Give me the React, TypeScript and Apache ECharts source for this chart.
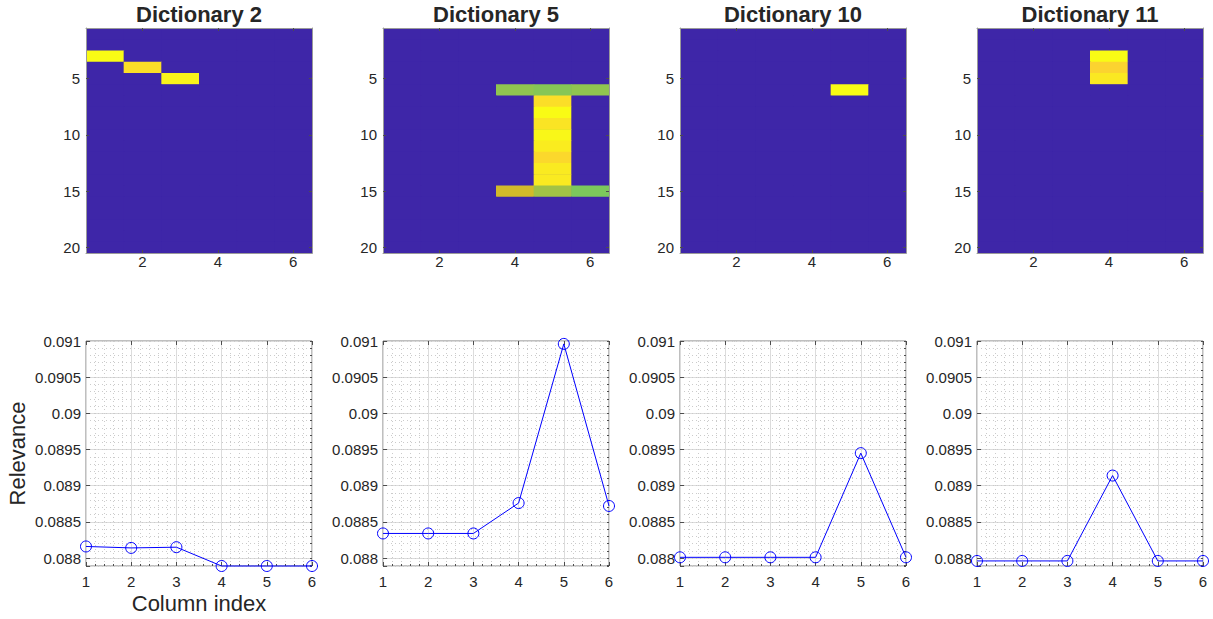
import { useEffect, useRef } from "react";
import * as echarts from "echarts";

// ---- data ----
const dictionaryNames = ["Dictionary 2", "Dictionary 5", "Dictionary 10", "Dictionary 11"];

const heatColumns = ["1", "2", "3", "4", "5", "6"];
const heatRows = [
  "1", "2", "3", "4", "5", "6", "7", "8", "9", "10",
  "11", "12", "13", "14", "15", "16", "17", "18", "19", "20",
];

// Non-zero atoms of each dictionary: [column, row, normalised value]
const dict2Cells = [
  [1, 3, 1.0],
  [2, 4, 0.925],
  [3, 5, 0.98],
];
const dict5Cells = [
  [4, 6, 0.654], [5, 6, 0.64], [6, 6, 0.654],
  [5, 7, 0.925], [5, 8, 1.0], [5, 9, 0.94], [5, 10, 0.99],
  [5, 11, 0.96], [5, 12, 0.91], [5, 13, 0.955], [5, 14, 0.955],
  [4, 15, 0.75], [5, 15, 0.68], [6, 15, 0.625],
];
const dict10Cells = [[5, 6, 1.0]];
const dict11Cells = [
  [4, 3, 1.0],
  [4, 4, 0.896],
  [4, 5, 0.95],
];

const columnIndex = [1, 2, 3, 4, 5, 6];
const relevanceDict2 = [0.08816, 0.08814, 0.08815, 0.08789, 0.08789, 0.08789];
const relevanceDict5 = [0.08834, 0.08834, 0.08834, 0.08876, 0.09096, 0.08872];
const relevanceDict10 = [0.08801, 0.08801, 0.08801, 0.08801, 0.08945, 0.08801];
const relevanceDict11 = [0.08796, 0.08796, 0.08796, 0.08914, 0.08796, 0.08796];

const relevanceTicks = [0.088, 0.0885, 0.089, 0.0895, 0.09, 0.0905, 0.091];
const relevanceTickLabels = ["0.088", "0.0885", "0.089", "0.0895", "0.09", "0.0905", "0.091"];
const relevanceMin = 0.08789;
const relevanceMax = 0.091;

// parula colormap stops
const parula = [
  "#3E26A8", "#4652EC", "#2989E8", "#10ABD0", "#2EBFA0",
  "#7CC85C", "#D2BA2A", "#FCCB35", "#F9FB15",
];

// ---- layout / style ----
const FONT = "'Liberation Sans', Arial, Helvetica, sans-serif";
const TEXT = "#262626";
const panelLefts = [86, 383, 680, 977];
const panelWidth = 226;
const heatTop = 28;
const heatHeight = 225;
const lineTop = 341;
const lineHeight = 225;

const allCells = [dict2Cells, dict5Cells, dict10Cells, dict11Cells];
const allRelevance = [relevanceDict2, relevanceDict5, relevanceDict10, relevanceDict11];

function heatData(cells: number[][]) {
  const out: number[][] = [];
  for (let r = 0; r < heatRows.length; r++) {
    for (let c = 0; c < heatColumns.length; c++) {
      const hit = cells.find((cell) => cell[0] === c + 1 && cell[1] === r + 1);
      out.push([c, r, hit ? hit[2] : 0]);
    }
  }
  return out;
}

function relevanceLabel(v: number) {
  const i = relevanceTicks.findIndex((t) => Math.abs(t - v) < 1e-9);
  return i >= 0 ? relevanceTickLabels[i] : "";
}

// image-like cells: each rect overlaps its right/lower neighbour slightly
// so no seams appear between adjacent cells
function renderCell(_params: any, api: any) {
  const center = api.coord([api.value(0), api.value(1)]);
  const size = api.size([1, 1]);
  return {
    type: "rect",
    shape: {
      x: center[0] - size[0] / 2,
      y: center[1] - size[1] / 2,
      width: size[0] + 0.6,
      height: size[1] + 0.6,
    },
    style: { fill: api.visual("color") },
  };
}

function buildOption() {
  const grids: any[] = [];
  const xAxes: any[] = [];
  const yAxes: any[] = [];
  const series: any[] = [];
  const graphics: any[] = [];

  const everyOther = (idx: number) => (idx + 1) % 2 === 0;
  const everyFifth = (idx: number) => (idx + 1) % 5 === 0;
  const heatLine = { show: true, lineStyle: { color: "#9a9a9a", width: 1 } };
  const heatTick = { show: true, inside: true, length: 3, lineStyle: { color: "#4d4d4d" } };

  // heatmap panels
  dictionaryNames.forEach((name, i) => {
    grids.push({
      left: panelLefts[i], top: heatTop, width: panelWidth, height: heatHeight,
      show: true, backgroundColor: parula[0], borderWidth: 0,
      outerBoundsMode: "none",
    });
    xAxes.push({
      type: "category", gridIndex: i, data: heatColumns, position: "bottom", z: 10,
      axisLine: heatLine,
      axisTick: { ...heatTick, alignWithLabel: true, interval: everyOther },
      axisLabel: { interval: everyOther, fontSize: 15, color: TEXT, margin: 1, fontFamily: FONT },
      splitLine: { show: false },
    });
    xAxes.push({
      type: "category", gridIndex: i, data: heatColumns, position: "top", z: 10,
      axisLine: heatLine,
      axisTick: { ...heatTick, alignWithLabel: true, interval: everyOther },
      axisLabel: { show: false },
      splitLine: { show: false },
    });
    yAxes.push({
      type: "category", gridIndex: i, data: heatRows, inverse: true, position: "left", z: 10,
      axisLine: heatLine,
      axisTick: { ...heatTick, alignWithLabel: true, interval: everyFifth },
      axisLabel: { interval: everyFifth, fontSize: 15, color: TEXT, margin: 6, fontFamily: FONT },
      splitLine: { show: false },
    });
    yAxes.push({
      type: "category", gridIndex: i, data: heatRows, inverse: true, position: "right", z: 10,
      axisLine: heatLine,
      axisTick: { ...heatTick, alignWithLabel: true, interval: everyFifth },
      axisLabel: { show: false },
      splitLine: { show: false },
    });
    series.push({
      type: "custom",
      xAxisIndex: 2 * i,
      yAxisIndex: 2 * i,
      data: heatData(allCells[i]),
      encode: { x: 0, y: 1 },
      renderItem: renderCell,
      silent: true,
      z: 2,
    });
    graphics.push({
      type: "text",
      x: panelLefts[i] + panelWidth / 2,
      y: 14,
      style: {
        text: name,
        font: `bold 22px ${FONT}`,
        fill: TEXT,
        align: "center",
        verticalAlign: "middle",
        textAlign: "center",
        textVerticalAlign: "middle",
      },
    });
  });

  // relevance panels
  const majorGrid = { show: true, lineStyle: { color: "#dcdcdc", width: 1, type: "solid" } };
  const minorGrid = { show: true, lineStyle: { color: "#cbcbcb", width: 1, type: [1, 3] } };
  const tickStyle = { lineStyle: { color: "#4d4d4d" } };

  allRelevance.forEach((values, i) => {
    const g = 4 + i;
    grids.push({
      left: panelLefts[i], top: lineTop, width: panelWidth, height: lineHeight,
      show: true, borderColor: "#7f7f7f", borderWidth: 1, backgroundColor: "#fff",
      outerBoundsMode: "none",
    });
    xAxes.push({
      type: "value", gridIndex: g, min: 1, max: 6, interval: 1, position: "bottom",
      axisLine: { show: false },
      axisTick: { show: true, inside: true, length: 4, ...tickStyle },
      minorTick: { show: true, splitNumber: 5, length: 2, ...tickStyle },
      axisLabel: { fontSize: 15, color: TEXT, margin: 8, fontFamily: FONT },
      splitLine: majorGrid,
      minorSplitLine: minorGrid,
      name: i === 0 ? "Column index" : "",
      nameLocation: "middle",
      nameGap: 26,
      nameTextStyle: { fontSize: 22, color: TEXT, fontFamily: FONT },
    });
    xAxes.push({
      type: "value", gridIndex: g, min: 1, max: 6, interval: 1, position: "top",
      axisLine: { show: false },
      axisTick: { show: true, inside: true, length: 4, ...tickStyle },
      axisLabel: { show: false },
      splitLine: { show: false },
    });
    yAxes.push({
      type: "value", gridIndex: g, min: relevanceMin, max: relevanceMax,
      splitNumber: 6, minInterval: 0.0005, maxInterval: 0.0005, position: "left",
      axisLine: { show: false },
      axisTick: { show: true, inside: true, length: 4, ...tickStyle },
      axisLabel: {
        fontSize: 15, color: TEXT, margin: 5, fontFamily: FONT,
        formatter: (v: number) => relevanceLabel(v),
      },
      splitLine: majorGrid,
      name: i === 0 ? "Relevance" : "",
      nameLocation: "middle",
      nameRotate: 90,
      nameGap: 58,
      nameTextStyle: { fontSize: 22, color: TEXT, fontFamily: FONT },
    });
    // finer axis on the right carries the minor grid
    yAxes.push({
      type: "value", gridIndex: g, min: relevanceMin, max: relevanceMax,
      splitNumber: 31, minInterval: 0.0001, maxInterval: 0.0001, position: "right",
      axisLine: { show: false },
      axisTick: { show: true, inside: true, length: 2, ...tickStyle },
      axisLabel: { show: false },
      splitLine: minorGrid,
    });
    series.push({
      type: "line",
      xAxisIndex: 8 + 2 * i,
      yAxisIndex: 8 + 2 * i,
      data: columnIndex.map((c, k) => [c, values[k]]),
      symbol: "circle",
      symbolSize: 11,
      showAllSymbol: true,
      clip: false,
      itemStyle: { color: "rgba(0,0,0,0)", borderColor: "#0000ff", borderWidth: 1 },
      lineStyle: { color: "#0000ff", width: 1 },
      emphasis: { disabled: true },
      silent: true,
      z: 5,
    });
  });

  return {
    animation: false,
    backgroundColor: "#ffffff",
    textStyle: { fontFamily: FONT, color: TEXT },
    grid: grids,
    xAxis: xAxes,
    yAxis: yAxes,
    visualMap: {
      type: "continuous",
      show: false,
      min: 0,
      max: 1,
      dimension: 2,
      seriesIndex: [0, 1, 2, 3],
      inRange: { color: parula },
    },
    series,
    graphic: graphics,
  };
}

export default function App() {
  const ref = useRef<HTMLDivElement>(null);
  useEffect(() => {
    const chart = echarts.init(ref.current!, null, { renderer: "svg" });
    chart.setOption(buildOption() as any);
    return () => chart.dispose();
  }, []);
  return (
    <div
      ref={ref}
      style={{ position: "fixed", left: 0, top: 0, width: 1213, height: 619, background: "#fff" }}
    />
  );
}
